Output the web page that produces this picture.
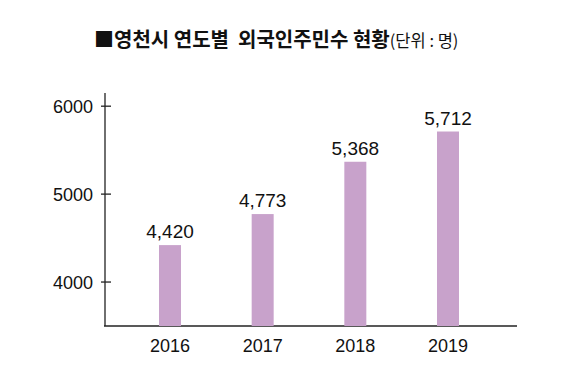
<!DOCTYPE html>
<html>
<head>
<meta charset="utf-8">
<script src="https://cdn.jsdelivr.net/npm/d3@7"></script>
<style>
  body { margin: 0; background: #fff; }
  svg { display: block; }
</style>
</head>
<body>
<div class="chart"></div>
<script>
// data
const years = ["2016", "2017", "2018", "2019"];
const residents = [4420, 4773, 5368, 5712];
const yTicks = [4000, 5000, 6000];

const titleMain = "■영천시 연도별  외국인주민수 현황";
const titleUnit = "(단위 : 명)";

const width = 580,
  height = 378;
const barColor = "#c8a2cb";
const numFont = "'Liberation Sans', Arial, sans-serif";

const svg = d3
  .select(".chart")
  .append("svg")
  .attr("width", width)
  .attr("height", height);

// title (keep the double space)
const title = svg
  .append("text")
  .attr("x", 94)
  .attr("y", 47)
  .style("white-space", "pre")
  .attr("font-family", "'Noto Sans CJK KR', sans-serif")
  .attr("fill", "#111");
title
  .append("tspan")
  .attr("font-size", "20px")
  .attr("font-weight", "bold")
  .text(titleMain);
title
  .append("tspan")
  .attr("font-size", "16.5px")
  .text(titleUnit);

// scales
const x = d3
  .scalePoint()
  .domain(years)
  .range([170, 448]);

const y = d3
  .scaleLinear()
  .domain([3500, 6150])
  .range([326, 93]);

const barWidth = 22;

// axes lines
svg
  .append("line")
  .attr("x1", 105)
  .attr("x2", 105)
  .attr("y1", y(6150))
  .attr("y2", y(3500))
  .attr("stroke", "#222")
  .attr("stroke-width", 1.3);

svg
  .append("line")
  .attr("x1", 104)
  .attr("x2", 517)
  .attr("y1", y(3500))
  .attr("y2", y(3500))
  .attr("stroke", "#222")
  .attr("stroke-width", 1.3);

// y ticks
const tick = svg
  .append("g")
  .selectAll("g")
  .data(yTicks)
  .join("g")
  .attr("transform", d => `translate(0,${y(d)})`);

tick
  .append("line")
  .attr("x1", 101)
  .attr("x2", 111)
  .attr("stroke", "#222")
  .attr("stroke-width", 1.3);

tick
  .append("text")
  .attr("x", 93)
  .attr("dy", "0.36em")
  .attr("text-anchor", "end")
  .attr("font-family", numFont)
  .attr("font-size", "18px")
  .attr("fill", "#111")
  .text(d => d);

// bars
svg
  .append("g")
  .selectAll("rect")
  .data(residents)
  .join("rect")
  .attr("x", (d, i) => x(years[i]) - barWidth / 2)
  .attr("width", barWidth)
  .attr("y", d => y(d))
  .attr("height", d => y(3500) - y(d))
  .attr("fill", barColor);

// value labels
svg
  .append("g")
  .selectAll("text")
  .data(residents)
  .join("text")
  .attr("x", (d, i) => x(years[i]))
  .attr("y", d => y(d) - 7)
  .attr("text-anchor", "middle")
  .attr("font-family", numFont)
  .attr("font-size", "19px")
  .attr("fill", "#111")
  .text(d => d3.format(",")(d));

// x labels
svg
  .append("g")
  .selectAll("text")
  .data(years)
  .join("text")
  .attr("x", d => x(d))
  .attr("y", 352)
  .attr("text-anchor", "middle")
  .attr("font-family", numFont)
  .attr("font-size", "18px")
  .attr("fill", "#111")
  .text(d => d);
</script>
</body>
</html>
